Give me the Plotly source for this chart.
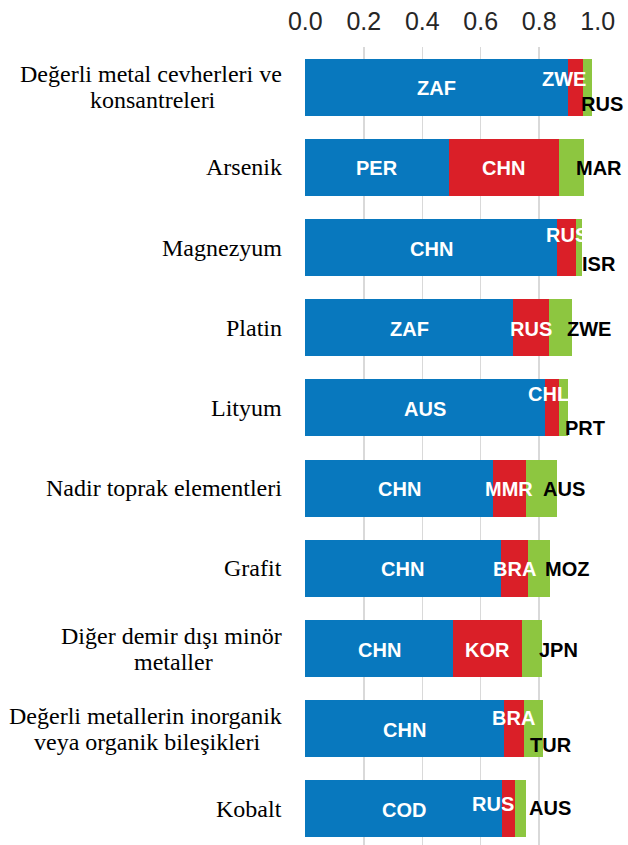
import plotly.graph_objects as go

# ---------------- data ----------------
categories = [
    "Değerli metal cevherleri ve|konsantreleri",
    "Arsenik",
    "Magnezyum",
    "Platin",
    "Lityum",
    "Nadir toprak elementleri",
    "Grafit",
    "Diğer demir dışı minör|metaller",
    "Değerli metallerin inorganik|veya organik bileşikleri",
    "Kobalt",
]
first_codes = ["ZAF", "PER", "CHN", "ZAF", "AUS", "CHN", "CHN", "CHN", "CHN", "COD"]
first_share = [0.898, 0.492, 0.862, 0.712, 0.821, 0.642, 0.668, 0.506, 0.678, 0.674]
second_codes = ["ZWE", "CHN", "RUS", "RUS", "CHL", "MMR", "BRA", "KOR", "BRA", "RUS"]
second_share = [0.052, 0.375, 0.064, 0.123, 0.045, 0.113, 0.093, 0.236, 0.069, 0.044]
third_codes = ["RUS", "MAR", "ISR", "ZWE", "PRT", "AUS", "MOZ", "JPN", "TUR", "AUS"]
third_share = [0.031, 0.087, 0.021, 0.076, 0.032, 0.107, 0.075, 0.069, 0.065, 0.037]
x_ticks = [0.0, 0.2, 0.4, 0.6, 0.8, 1.0]

# ---------------- style ----------------
BLUE, RED, GREEN = "#0878BE", "#DA1F28", "#8DC640"
GRID = "#D9D9D9"
SERIF = "Liberation Serif"
SANS = "Liberation Sans"
# pixel nudges for the manually placed data labels (style only)
second_dx = [-11, 0, 0, 0, -3, -1, 0, 0, 0, -16]
second_dy = [-9, 0, -14, 0, -15, 0, 0, 0, -12, -6]
third_dx = [10, 15, 17, 17, 17, 7, 17, 16, 8, 24]
third_dy = [16, 0, 15, 0, 19, 0, 0, 0, 15, -2]

cat_keys = [c.replace("|", " ") for c in categories]

fig = go.Figure()
for vals, col in [(first_share, BLUE), (second_share, RED), (third_share, GREEN)]:
    fig.add_trace(go.Bar(
        y=cat_keys, x=vals, orientation="h", marker=dict(color=col, line=dict(width=0)),
        width=0.71, hoverinfo="skip", showlegend=False,
    ))

# Times New Roman (Liberation Serif) advance widths, per 1000 em
TW = dict(zip("abcdefghijklmnopqrstuvwxyz",
              [444, 500, 444, 500, 444, 333, 500, 500, 278, 278, 500, 278, 778,
               500, 500, 500, 500, 333, 389, 278, 500, 500, 722, 500, 500, 444]))
TW.update({" ": 250, "ğ": 500, "ı": 278, "ş": 389, "ö": 500, "D": 722})


def text_w(s, size):
    return sum(TW.get(ch, 500) for ch in s) * size / 1000.0


ann = []
LABEL_SIZE = 24
RIGHT_GAP = 21
LINE_GAP = 26
for key, cat in zip(cat_keys, categories):
    lines = cat.split("|")
    if len(lines) == 1:
        ann.append(dict(x=0, xref="paper", y=key, yref="y", text=lines[0], showarrow=False,
                        xanchor="right", yanchor="middle", xshift=-RIGHT_GAP, yshift=0,
                        font=dict(family=SERIF, size=LABEL_SIZE, color="#000000")))
    else:
        w1 = text_w(lines[0], LABEL_SIZE)
        ann.append(dict(x=0, xref="paper", y=key, yref="y", text=lines[0], showarrow=False,
                        xanchor="right", yanchor="middle", xshift=-RIGHT_GAP, yshift=LINE_GAP / 2,
                        font=dict(family=SERIF, size=LABEL_SIZE, color="#000000")))
        ann.append(dict(x=0, xref="paper", y=key, yref="y", text=lines[1], showarrow=False,
                        xanchor="center", yanchor="middle", xshift=-RIGHT_GAP - w1 / 2,
                        yshift=-LINE_GAP / 2,
                        font=dict(family=SERIF, size=LABEL_SIZE, color="#000000")))

BAR_FONT = 20
for i, key in enumerate(cat_keys):
    a, b, c = first_share[i], second_share[i], third_share[i]
    ann.append(dict(x=a / 2, y=key, text=f"<b>{first_codes[i]}</b>", showarrow=False,
                    xanchor="center", yanchor="middle", yshift=-1,
                    font=dict(family=SANS, size=BAR_FONT, color="white")))
    ann.append(dict(x=a + b / 2, y=key, text=f"<b>{second_codes[i]}</b>", showarrow=False,
                    xanchor="center", yanchor="middle", xshift=second_dx[i], yshift=-1 - second_dy[i],
                    font=dict(family=SANS, size=BAR_FONT, color="white")))
    ann.append(dict(x=a + b + c, y=key, text=f"<b>{third_codes[i]}</b>", showarrow=False,
                    xanchor="center", yanchor="middle", xshift=third_dx[i], yshift=-1 - third_dy[i],
                    font=dict(family=SANS, size=BAR_FONT, color="black")))

fig.update_layout(
    barmode="stack",
    width=628, height=845, autosize=False,
    margin=dict(l=305, r=30, t=47, b=0, pad=0),
    paper_bgcolor="white", plot_bgcolor="white",
    annotations=ann,
    bargap=0.29,
    xaxis=dict(side="top", range=[-0.001, 1.001], tickvals=x_ticks,
               ticktext=[f"{v:.1f}" for v in x_ticks],
               showgrid=True, gridcolor=GRID, gridwidth=1.5, zeroline=False, showline=False,
               ticks="", ticklabelstandoff=11,
               tickfont=dict(family=SANS, size=25, color="#262626")),
    yaxis=dict(type="category", categoryorder="array", categoryarray=cat_keys,
               range=[9.45, -0.5], showticklabels=False, showgrid=False, zeroline=False,
               showline=False, ticks=""),
)

fig.write_html("out.html", config={"displayModeBar": False, "staticPlot": True},
               post_script="document.body.style.margin='0px';")
